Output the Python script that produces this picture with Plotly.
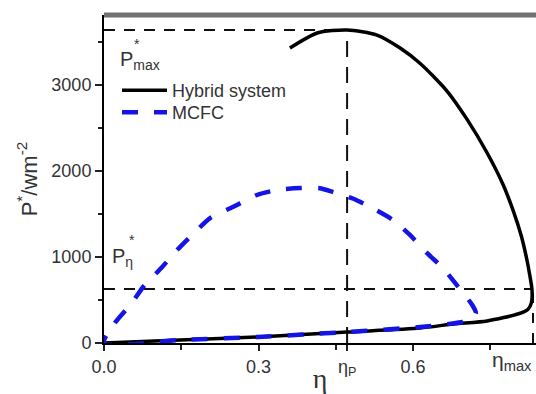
import plotly.graph_objects as go

# ---- data ----
hybrid_eta = [0.0, 0.148, 0.299, 0.472, 0.614, 0.678, 0.744, 0.805, 0.823, 0.830, 0.831, 0.827,
              0.820, 0.810, 0.795, 0.775, 0.744, 0.705, 0.666, 0.614, 0.575, 0.530,
              0.472, 0.414, 0.361]
hybrid_P = [0, 35, 70, 128, 174, 221, 256, 340, 390, 470, 620, 780,
            1000, 1250, 1530, 1840, 2209, 2600, 2930, 3250, 3430, 3581,
            3640, 3605, 3430]

mcfc_eta = [0.0, 0.021, 0.054, 0.076, 0.113, 0.142, 0.177, 0.206, 0.250, 0.297, 0.336, 0.381,
            0.419, 0.445, 0.483, 0.517, 0.561, 0.594, 0.627, 0.658, 0.685, 0.715, 0.722,
            0.711, 0.697, 0.614, 0.472, 0.299, 0.148, 0.0]
mcfc_P = [0, 233, 465, 651, 884, 1081, 1291, 1453, 1581, 1721, 1779, 1802,
          1800, 1755, 1680, 1581, 1430, 1256, 1047, 872, 674, 442, 349,
          267, 244, 186, 128, 70, 35, 0]

eta_P = 0.472
eta_max = 0.833
P_max = 3640
P_eta = 628

x_tickvals = [0.0, 0.3, eta_P, 0.6]
x_ticktext = ["0.0", "0.3", "η<sub>P</sub>", "0.6"]
x_minor = [0.15, 0.45, 0.75]
y_tickvals = [0, 1000, 2000, 3000]
y_minor = [500, 1500, 2500, 3500]

X_RANGE = [0, 0.8388]
Y_RANGE = [0, 3814]

TXT = "#333333"
FONT = "Liberation Sans, Arial, sans-serif"

fig = go.Figure()

# reference dashed lines
fig.add_trace(go.Scatter(x=[0, eta_P], y=[P_max, P_max], mode="lines", showlegend=False,
                         line=dict(color="#111", width=2, dash="11px,9px"), hoverinfo="skip"))
fig.add_trace(go.Scatter(x=[eta_P, eta_P], y=[0, P_max], mode="lines", showlegend=False,
                         line=dict(color="#111", width=2, dash="16px,10px"), hoverinfo="skip"))
fig.add_trace(go.Scatter(x=[0, eta_max], y=[P_eta, P_eta], mode="lines", showlegend=False,
                         line=dict(color="#111", width=2, dash="11px,9px"), hoverinfo="skip"))
fig.add_trace(go.Scatter(x=[eta_max, eta_max], y=[0, P_eta], mode="lines", showlegend=False,
                         line=dict(color="#111", width=2, dash="10px,10px"), hoverinfo="skip"))

fig.add_trace(go.Scatter(x=hybrid_eta, y=hybrid_P, mode="lines", name="Hybrid system",
                         legend="legend",
                         line=dict(color="black", width=3.5, shape="spline", smoothing=0.7)))
fig.add_trace(go.Scatter(x=mcfc_eta, y=mcfc_P, mode="lines", name="MCFC",
                         legend="legend2",
                         line=dict(color="#1414e6", width=4.5, dash="16px,16px",
                                   shape="spline", smoothing=0.7)))

L, R, T, B = 104, 0, 15, 51
W, H = 536, 394
pw, ph = W - L - R, H - T - B


def px(x):
    return (x - L) / pw


def py(y):
    return (H - B - y) / ph


leg_common = dict(xanchor="left", yanchor="top", bgcolor="rgba(0,0,0,0)", borderwidth=0,
                  itemwidth=45, font=dict(family=FONT, size=18, color=TXT))

fig.update_layout(
    width=W, height=H,
    margin=dict(l=L, r=R, t=T, b=B, pad=0, autoexpand=False),
    paper_bgcolor="white", plot_bgcolor="white",
    font=dict(family=FONT, size=18, color=TXT),
    showlegend=True,
    legend=dict(x=px(117), y=py(72), **leg_common),
    legend2=dict(x=px(117), y=py(94), **leg_common),
    xaxis=dict(range=X_RANGE, showgrid=False, zeroline=False, automargin=False,
               showline=True, linecolor="black", linewidth=2,
               tickmode="array", tickvals=x_tickvals, ticktext=x_ticktext,
               ticks="outside", ticklen=6, tickwidth=1.5, tickcolor="#222",
               tickfont=dict(family=FONT, size=18, color=TXT),
               minor=dict(tickmode="array", tickvals=x_minor, ticks="outside",
                          ticklen=5, tickwidth=1.5, tickcolor="#222", showgrid=False),
               title=dict(text="η", font=dict(family="Liberation Serif, serif", size=28, color=TXT),
                          standoff=0)),
    yaxis=dict(range=Y_RANGE, showgrid=False, zeroline=False, automargin=False,
               showline=True, linecolor="black", linewidth=2,
               tickmode="array", tickvals=y_tickvals,
               ticks="outside", ticklen=7, tickwidth=1.5, tickcolor="#222",
               tickfont=dict(family=FONT, size=18, color=TXT),
               minor=dict(tickmode="array", tickvals=y_minor, ticks="outside",
                          ticklen=4, tickwidth=1.5, tickcolor="#222", showgrid=False),
               title=dict(text="P<sup>*</sup>/wm<sup>-2</sup>",
                          font=dict(family=FONT, size=22, color=TXT), standoff=8)),
)

# gray top frame line
fig.add_shape(type="line", xref="paper", yref="paper", x0=0, x1=1, y0=1, y1=1,
              line=dict(color="#707070", width=5), layer="above")

ann = []
ann.append(dict(text="P<sub>max</sub>", x=px(118), y=py(60), xref="paper", yref="paper",
                xanchor="left", yanchor="middle", showarrow=False,
                font=dict(family=FONT, size=20, color=TXT)))
ann.append(dict(text="*", x=px(137), y=py(44), xref="paper", yref="paper",
                xanchor="center", yanchor="middle", showarrow=False,
                font=dict(family=FONT, size=14, color=TXT)))
ann.append(dict(text="P<sub>η</sub>", x=px(110), y=py(257), xref="paper", yref="paper",
                xanchor="left", yanchor="middle", showarrow=False,
                font=dict(family=FONT, size=20, color=TXT)))
ann.append(dict(text="*", x=px(132), y=py(240), xref="paper", yref="paper",
                xanchor="center", yanchor="middle", showarrow=False,
                font=dict(family=FONT, size=14, color=TXT)))
ann.append(dict(text="η<sub>max</sub>", x=px(534), y=py(361), xref="paper", yref="paper",
                xanchor="right", yanchor="middle", showarrow=False,
                font=dict(family=FONT, size=21, color=TXT)))
fig.update_layout(annotations=ann)

fig.write_html("out.html", config={"displayModeBar": False},
               post_script="document.body.style.margin='0';document.body.style.overflow='hidden';")
